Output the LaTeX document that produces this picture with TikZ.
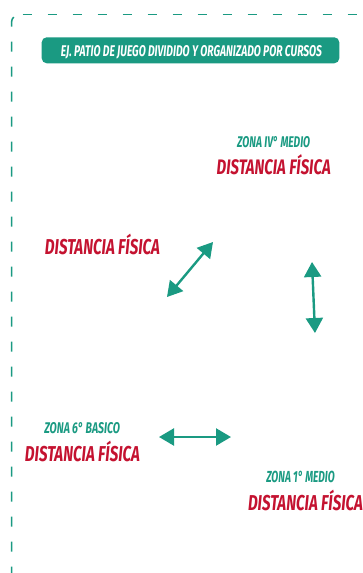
\documentclass[tikz,border=0pt]{standalone}
\usepackage{fontspec}
\usepackage{graphicx}
\setmainfont{Fira Sans}
\usetikzlibrary{arrows.meta}
\definecolor{tealc}{HTML}{1A9A82}
\definecolor{redc}{HTML}{C41230}
\newcommand{\fitw}[3]{\resizebox{#1}{\height}{\fontsize{#2}{#2}\selectfont\bfseries\itshape #3}}
\tikzset{
  lbl/.style={inner sep=0pt, outer sep=0pt, anchor=base},
  zona/.style={lbl, text=tealc},
  dist/.style={lbl, text=redc},
  arr/.style={tealc, line width=2.4pt, {Triangle[length=15pt,width=17pt]}-{Triangle[length=15pt,width=17pt]}},
  frame/.style={tealc, line width=1.5pt},
  banner/.style={fill=tealc, rounded corners=5pt, minimum width=297.6pt, minimum height=26pt, inner sep=0pt}
}
\begin{document}
\begin{tikzpicture}[x=1pt,y=-1pt]
\useasboundingbox (0,0) rectangle (363,573);
\clip (0,0) rectangle (363,573);
% dashed frame (cut by the picture edges)
\draw[frame, dash pattern=on 10pt off 15pt, rounded corners=8pt] (11.5,601.5) -- (11.5,14.5) -- (19.5,14.5);
\draw[frame, dash pattern=on 9pt off 16pt] (22.7,14.5) -- (420,14.5);
% banner
\node[banner] (ban) at (190.5,50.3) {};
\node[lbl, text=white] (title) at (191.5,56) {\fitw{261pt}{15.5}{EJ. PATIO DE JUEGO DIVIDIDO Y ORGANIZADO POR CURSOS}};
% zone IV medio
\node[zona] (z4) at (273.7,147.3) {\fitw{73pt}{15.5}{ZONA IV° MEDIO}};
\node[dist] (d4) at (273.7,174) {\fitw{114pt}{21}{DISTANCIA FÍSICA}};
% left distance
\node[dist] (dl) at (102.5,254.7) {\fitw{115pt}{21.5}{DISTANCIA FÍSICA}};
% zone 6 basico
\node[zona] (z6) at (82.2,433) {\fitw{75.7pt}{15.5}{ZONA 6° BASICO}};
\node[dist] (d6) at (82.5,461.3) {\fitw{115pt}{21.5}{DISTANCIA FÍSICA}};
% zone 1 medio
\node[zona] (z1) at (300.5,482) {\fitw{68.4pt}{16}{ZONA 1° MEDIO}};
\node[dist] (d1) at (305.5,510) {\fitw{115pt}{21.5}{DISTANCIA FÍSICA}};
% arrows
\coordinate (a1s) at (167,297);
\coordinate (a1e) at (213,242);
\coordinate (a2s) at (312,262);
\coordinate (a2e) at (315,333);
\coordinate (a3s) at (159,437);
\coordinate (a3e) at (231,437);
\draw[arr] (a1s) -- (a1e);
\draw[arr] (a2s) -- (a2e);
\draw[arr] (a3s) -- (a3e);
\end{tikzpicture}
\end{document}
